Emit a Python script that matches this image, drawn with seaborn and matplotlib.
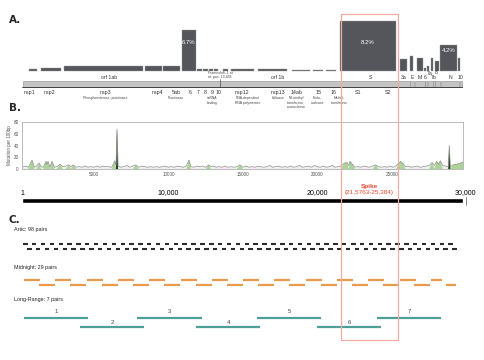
"""
SARS-CoV-2 genome overview: per-gene mutation rate (A), mutations per 100bp
along the genome (B) and amplicon layouts of three primer schemes (C).
"""
import matplotlib
matplotlib.use("Agg")
import matplotlib.pyplot as plt
import matplotlib.transforms as mtransforms
from matplotlib.patches import Rectangle
import seaborn as sns
import numpy as np
import pandas as pd

W, H = 485, 360
XLIM = (170, 29770)
SPIKE = (21563, 25384)

# ---- panel A: mutation rate per gene (%) ----
bar_start = [640, 1445, 2989, 8426, 9634, 10910, 11916, 12319, 12721, 13057, 13661,
             14198, 16010, 18292, 19702, 20574, 21514,
             25541, 26212, 26662, 27152, 27333, 27641, 27870, 28246, 29434]
bar_end = [1177, 2788, 8292, 9567, 10775, 11849, 12252, 12654, 12990, 13326, 13997,
           15742, 17957, 19500, 20373, 21246, 25273,
           26031, 26434, 27065, 27286, 27487, 27776, 28179, 29347, 29569]
bar_rate = [0.4, 0.45, 0.9, 0.9, 0.9, 6.7, 0.4, 0.3, 0.3, 0.3, 0.4,
            0.3, 0.3, 0.2, 0.2, 0.2, 8.2,
            2.0, 2.4, 2.1, 0.5, 0.8, 2.1, 1.6, 4.2, 2.1]
bar_pct_labels = {"6.7%": 5, "8.2%": 16, "4.2%": 24}

# gene track
track_start = [266, 21563, 25393, 26245, 26523, 27202, 27394, 27756, 27894, 28274, 29558]
track_end = [21555, 25384, 26220, 26472, 27191, 27387, 27759, 27887, 28259, 29533, 29674]

# labels above the track (name, position)
track_labels = [("orf 1ab", 6010, -1.0), ("orf 1b", 17353, -1.0), ("S", 23528, -1.0),
                ("3a", 25800, -1.1), ("E", 26350, -1.1), ("M", 26870, -1.1),
                ("6", 27260, -1.1), ("7b", 27800, -1.1), ("N", 28900, -1.1),
                ("10", 29600, -1.1), ("7a", 27560, -0.35), ("8", 28000, -0.2)]

# nsp labels below the track
nsp_names = ["nsp1", "nsp2", "nsp3", "nsp4", "5ab", "6", "7", "8", "9", "10",
             "nsp12", "nsp13", "14ab", "15", "16", "S1", "S2"]
nsp_pos = [640, 1982, 5741, 9231, 10507, 11446, 11983, 12453, 12923, 13393,
           14937, 17353, 18561, 20105, 21045, 22723, 24737]
nsp_desc = {5741: "Phosphoesterase, proteinase", 10507: "Proteinase",
            12923: "ssRNA\nbinding", 15300: "RNA-dependent\nRNA polymerase",
            17353: "Helicase", 18561: "N7-methyl\ntransferase,\nexonuclease",
            20000: "Endo-\nnuclease", 21450: "Methyl-\ntransferase"}

# ---- panel B: mutations per 100bp ----
mut_pos = [170, 400, 600, 841, 1000, 1150, 1311, 1450, 1600, 1780, 1850, 1915, 2050,
           2184, 2350, 2500, 2720, 2900, 3100, 3300, 3450, 3600, 3800, 4000, 4200,
           4400, 4600, 4800, 5000, 5200, 5400, 5600, 5800, 6000, 6200, 6400, 6480,
           6546, 6620, 6800, 7000, 7200, 7400, 7600, 7800, 8000, 8200, 8400, 8600,
           8800, 9000, 9200, 9400, 9600, 9800, 10000, 10200, 10400, 10600, 10800,
           11000, 11200, 11379, 11500, 11700, 11900, 12100, 12300, 12500, 12700,
           12850, 13000, 13200, 13400, 13600, 13800, 14000, 14200, 14400, 14600,
           14800, 15000, 15200, 15400, 15600, 15800, 16000, 16200, 16400, 16600,
           16800, 17000, 17200, 17400, 17600, 17800, 18000, 18200, 18400, 18600,
           18800, 19000, 19200, 19400, 19600, 19800, 20000, 20200, 20400, 20600,
           20800, 21000, 21200, 21400, 21600, 21800, 21985, 22100, 22185, 22350,
           22500, 22700, 22900, 23100, 23300, 23500, 23700, 23900, 24100, 24300,
           24500, 24700, 24900, 25100, 25300, 25450, 25596, 25750, 25900, 26100,
           26300, 26500, 26700, 26900, 27100, 27300, 27500, 27700, 27850, 28000,
           28112, 28250, 28400, 28600, 28780, 28850, 28920, 29100, 29300, 29500, 29770]
mut_val = [3, 5, 3, 15, 3, 5, 10, 4, 3, 13, 8, 13, 3,
           13, 3, 4, 8, 4, 5, 7, 4, 7, 3, 4, 3,
           5, 3, 4, 3, 5, 3, 5, 4, 4, 3, 14, 6,
           68, 5, 3, 4, 6, 3, 5, 7, 3, 5, 4, 3,
           4, 3, 4, 3, 4, 5, 3, 4, 3, 5, 4,
           3, 5, 15, 4, 3, 5, 4, 5, 3, 7,
           4, 5, 3, 4, 3, 5, 3, 4, 3, 4,
           7, 3, 5, 3, 4, 3, 5, 4, 3, 4,
           6, 3, 4, 5, 3, 4, 3, 5, 3, 4,
           6, 3, 4, 5, 3, 6, 4, 3, 5, 3,
           4, 6, 3, 4, 5, 10, 11, 6, 13, 8,
           3, 4, 3, 5, 4, 3, 5, 7, 4, 3,
           4, 3, 5, 3, 6, 10, 13, 9, 4, 5,
           3, 4, 5, 3, 4, 5, 6, 11, 6, 13,
           8, 14, 6, 5, 4, 40, 4, 7, 8, 9, 12]

# ---- panel C: amplicon schemes ----
ARTIC_LEN = 300
artic_pool1 = [240, 830, 1440, 2020, 2620, 3200, 3810, 4390, 5000, 5590, 6180, 6790,
               7370, 7980, 8560, 9160, 9750, 10360, 10940, 11540, 12130, 12740, 13320,
               13920, 14510, 15120, 15700, 16300, 16900, 17490, 18080, 18690, 19270,
               19870, 20470, 21060, 21650, 22260, 22840, 23440, 24040, 24630, 25220,
               25830, 26410, 27010, 27600, 28200, 28790]
artic_pool2 = [510, 1100, 1700, 2290, 2890, 3480, 4080, 4670, 5270, 5860, 6460, 7050,
               7640, 8240, 8830, 9430, 10020, 10620, 11210, 11810, 12400, 12990, 13590,
               14180, 14780, 15370, 15970, 16560, 17160, 17750, 18350, 18940, 19530,
               20130, 20720, 21320, 21910, 22510, 23100, 23700, 24290, 24890, 25480,
               26080, 26670, 27270, 27860, 28450, 29050]
midnight_pool1_start = [304, 2385, 4513, 6634, 8715, 10822, 12923, 15024, 17105, 19212,
                        21313, 23414, 25521, 27622]
midnight_pool1_end = [1378, 3459, 5587, 7708, 9789, 11896, 13997, 16098, 18179, 20286,
                      22387, 24488, 26595, 28360]
midnight_pool2_start = [1331, 3412, 5520, 7620, 9721, 11829, 13930, 16031, 18112, 20219,
                        22320, 24421, 26502, 28609]
midnight_pool2_end = [2405, 4486, 6594, 8694, 10795, 12903, 15004, 17105, 19186, 21293,
                      23394, 25495, 27576, 29300]
longrange_start = [304, 4063, 7889, 11849, 15943, 19970, 24000]
longrange_end = [4600, 8359, 12252, 16145, 20239, 24266, 28293]
longrange_pool = [1, 2, 1, 2, 1, 2, 1]


def rect(top, bottom, left=22, right=463):
    return [left / W, 1 - bottom / H, (right - left) / W, (bottom - top) / H]


def fy(py):
    return 1 - py / H


def segments(ax, y, starts, ends, **kw):
    ax.hlines([y] * len(starts), starts, ends, **kw)


sns.set_theme(style="white")
plt.rcParams["font.family"] = ["Liberation Sans", "DejaVu Sans"]

fig = plt.figure(figsize=(W / 100, H / 100), dpi=100)

# panel labels
for lab, py in [("A.", 20), ("B.", 108), ("C.", 220)]:
    fig.text(9 / W, fy(py), lab, fontsize=7.5, fontweight="bold", va="center",
             ha="left", family="DejaVu Sans")

# ---------- A ----------
axA = fig.add_axes(rect(14, 112))
axA.set_xlim(*XLIM)
axA.set_ylim(-6.72, 9.34)
axA.axis("off")
bar_color = "#54565c"
axA.bar(bar_start, bar_rate, width=np.array(bar_end) - np.array(bar_start),
        align="edge", color=bar_color, edgecolor="#9a9a9a", linewidth=0.3)
for txt, i in bar_pct_labels.items():
    yy = 4.75 if bar_rate[i] > 5 else 3.3
    axA.text((bar_start[i] + bar_end[i]) / 2, yy, txt, color="white",
             fontsize=4.3, ha="center", va="center")
for s, e in zip(track_start, track_end):
    axA.add_patch(Rectangle((s, -2.55), e - s, 0.85, facecolor="#c4c4c4",
                            edgecolor="#8a8a8a", linewidth=0.4))
axA.plot(XLIM, [-2.62, -2.62], color="#333333", lw=0.6)
for txt, x, y in track_labels:
    axA.text(x, y, txt, fontsize=3.7, ha="center", va="center", color="#333333")
for txt, x in zip(nsp_names, nsp_pos):
    axA.text(x, -3.45, txt, fontsize=3.8, ha="center", va="center", color="#333333")
for x, txt in nsp_desc.items():
    axA.text(x, -4.15, txt, fontsize=2.4, ha="center", va="top", color="#444444",
             linespacing=1.1)
axA.text(12650, -0.65, "Frameshift -1 at\nnt. pos. 13,468", fontsize=2.5,
         ha="left", va="center", color="#444444", linespacing=1.0)
axA.plot([13468, 13468], [-1.3, -2.62], color="#333333", lw=0.4)

# ---------- B ----------
axB = fig.add_axes(rect(122, 169))
df = pd.DataFrame({"pos": mut_pos, "val": mut_val})
v = df["val"].to_numpy()
axB.fill_between(df["pos"], 0, v, color="#eef0ed", lw=0)
axB.fill_between(df["pos"], 0, v, where=v > 6, interpolate=True, color="#acd499", lw=0)
axB.fill_between(df["pos"], 0, v, where=v > 25, interpolate=True, color="#1d3b1d", lw=0)
sns.lineplot(data=df, x="pos", y="val", ax=axB, color="#8c8c8c", lw=0.5)
axB.set_xlim(*XLIM)
axB.set_ylim(0, 80)
axB.set_yticks([0, 20, 40, 60, 80])
axB.set_xticks([5000, 10000, 15000, 20000, 25000])
axB.tick_params(labelsize=3.3, colors="#555555", length=1.5, width=0.4, pad=1)
axB.set_xlabel("")
axB.set_ylabel("Mutation per 100bp", fontsize=3.3, color="#555555", labelpad=1)
for sp in axB.spines.values():
    sp.set_color("#b0b0b0")
    sp.set_linewidth(0.6)

# genome ruler
axS = fig.add_axes(rect(182, 208))
axS.set_xlim(*XLIM)
axS.set_ylim(208, 182)
axS.axis("off")
axS.barh([200.5], [XLIM[1] - XLIM[0]], left=XLIM[0], height=5, color="black")
for txt, x in [("1", 170), ("10,000", 10000), ("20,000", 20000), ("30,000", 29900)]:
    axS.text(x, 193, txt, fontsize=5, ha="center", va="center", color="black")
axS.plot([30000, 30000], [197, 205], color="#555555", lw=0.5, clip_on=False)
axS.text(sum(SPIKE) / 2, 186, "Spike", color="#e8452c", fontsize=4.6,
         fontweight="bold", ha="center", va="center")
axS.text(sum(SPIKE) / 2, 192.3, "(21,5763-25,384)", color="#e8452c", fontsize=4.6,
         ha="center", va="center")

# ---------- C ----------
axC = fig.add_axes(rect(212, 345))
axC.set_xlim(*XLIM)
axC.set_ylim(345, 212)
axC.axis("off")
art1 = np.array(artic_pool1)
art2 = np.array(artic_pool2)
segments(axC, 244, art1, art1 + ARTIC_LEN, color="#2b2b2b", lw=1.5)
segments(axC, 248.7, art2, art2 + ARTIC_LEN, color="#2b2b2b", lw=1.5)
orange = "#e99a4c"
segments(axC, 280, midnight_pool1_start, midnight_pool1_end, color=orange, lw=1.6)
segments(axC, 284.7, midnight_pool2_start, midnight_pool2_end, color=orange, lw=1.6)
teal = "#4e9f98"
for i, (s, e, p) in enumerate(zip(longrange_start, longrange_end, longrange_pool)):
    yy = 318.3 if p == 1 else 326.7
    axC.hlines(yy, s, e, color=teal, lw=1.6)
    axC.text((s + e) / 2, yy - (7 if p == 1 else 4.3), str(i + 1), fontsize=4.3,
             ha="center", va="center", color="#444444")
for txt, py in [("Artic: 98 pairs", 230), ("Midnight: 29 pairs", 268),
                ("Long-Range: 7 pairs", 300)]:
    fig.text(14 / W, fy(py), txt, fontsize=3.9, ha="left", va="center", color="#222222")

# spike highlight box across all panels
trans = mtransforms.blended_transform_factory(axB.transData, fig.transFigure)
box = Rectangle((SPIKE[0], fy(340)), SPIKE[1] - SPIKE[0], fy(14) - fy(340),
                transform=trans, fill=False, edgecolor="#f4aaa2", lw=0.9, clip_on=False)
fig.add_artist(box)

fig.savefig("out.png", dpi=100)
